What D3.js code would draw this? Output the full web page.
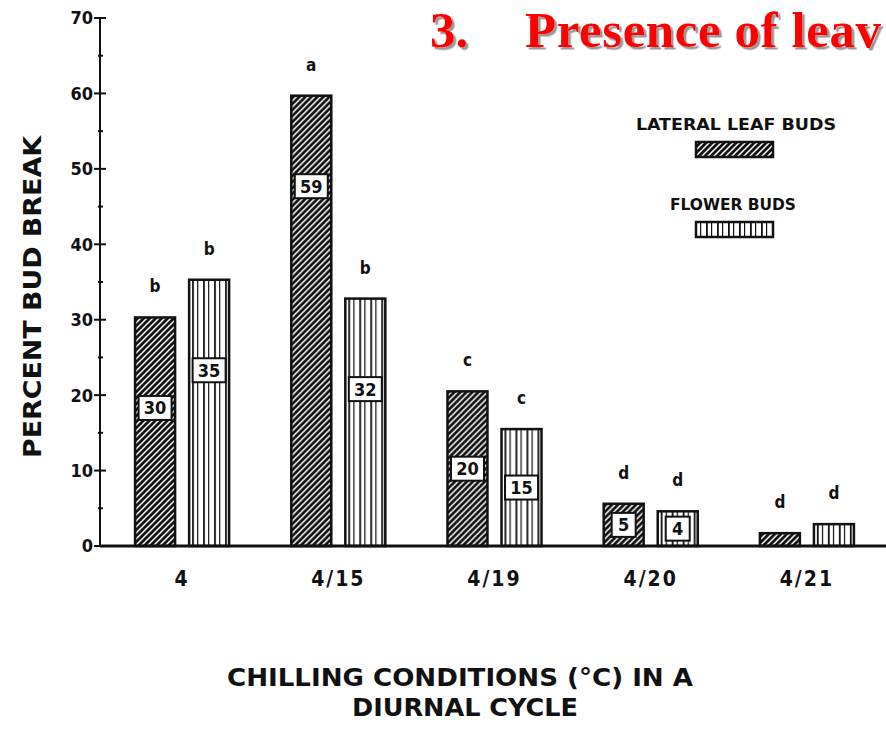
<!DOCTYPE html>
<html><head><meta charset="utf-8">
<script src="https://cdn.jsdelivr.net/npm/d3@7"></script>
<style>body{margin:0;background:#fff;} svg{display:block;}</style>
</head><body><svg id="c" width="886" height="731"></svg>
<script>
const categories = ["4", "4/15", "4/19", "4/20", "4/21"];
const seriesNames = ["LATERAL LEAF BUDS", "FLOWER BUDS"];
const leafValues = [30.3, 59.7, 20.5, 5.6, 1.7];
const flowerValues = [35.3, 32.8, 15.5, 4.6, 2.9];
const leafLabels = ["30", "59", "20", "5", null];
const flowerLabels = ["35", "32", "15", "4", null];
const leafLetters = ["b", "a", "c", "d", "d"];
const flowerLetters = ["b", "b", "c", "d", "d"];
const yTickValues = [0, 10, 20, 30, 40, 50, 60, 70];
const yTickLabels = ["0", "10", "20", "30", "40", "50", "60", "70"];
const yMinorTicks = [5, 15, 25, 35, 45, 55, 65];
const titleNumber = "3.";
const titleText = "Presence of leav";
const yTitle = "PERCENT BUD BREAK";
const xTitle1 = "CHILLING CONDITIONS (\u00B0C) IN A";
const xTitle2 = "DIURNAL CYCLE";

const svg = d3.select("#c");
const F = "'DejaVu Sans Condensed','DejaVu Sans',sans-serif";

const defs = svg.append("defs");
const hatch = defs.append("pattern").attr("id", "hatch").attr("patternUnits", "userSpaceOnUse")
  .attr("width", 6).attr("height", 6);
hatch.append("rect").attr("width", 6).attr("height", 6).attr("fill", "#111");
hatch.append("path").attr("d", "M-1,7 L7,-1 M-1,1 L1,-1 M5,7 L7,5")
  .attr("stroke", "#fff").attr("stroke-width", 1.5);
const stripes = defs.append("pattern").attr("id", "stripes").attr("patternUnits", "userSpaceOnUse")
  .attr("width", 11).attr("height", 10);
stripes.append("rect").attr("width", 11).attr("height", 10).attr("fill", "#fff");
stripes.append("rect").attr("x", 2).attr("width", 1.8).attr("height", 10).attr("fill", "#111");
stripes.append("rect").attr("x", 7).attr("width", 1.2).attr("height", 10).attr("fill", "#111");
const shadow = defs.append("filter").attr("id", "shadow").attr("x", "-10%").attr("y", "-30%")
  .attr("width", "130%").attr("height", "160%");
shadow.append("feDropShadow").attr("dx", 2.5).attr("dy", 2.5).attr("stdDeviation", 0.6)
  .attr("flood-color", "#999").attr("flood-opacity", 1);

const y = d3.scaleLinear().domain([0, 70]).range([546, 18]);
const x0 = d3.scaleBand().domain(categories).range([104, 885]).paddingInner(0.398).paddingOuter(0.199);
const x1 = d3.scaleBand().domain(seriesNames).range([0, x0.bandwidth()]).paddingInner(0.26);

// Title
const tg = svg.append("g").attr("font-family", "'Liberation Serif','Times New Roman',serif")
  .attr("font-weight", "bold").attr("font-size", 51).attr("fill", "#ff0000").attr("filter", "url(#shadow)");
tg.append("text").attr("x", 430).attr("y", 47).text(titleNumber);
tg.append("text").attr("x", 525).attr("y", 47).attr("textLength", 356).attr("lengthAdjust", "spacing").text(titleText);

// Y axis
const ax = svg.append("g");
ax.append("line").attr("x1", 100).attr("x2", 100).attr("y1", y(70)).attr("y2", y(0))
  .attr("stroke", "#111").attr("stroke-width", 2);
ax.selectAll(".maj").data(yTickValues).join("line")
  .attr("x1", 94).attr("x2", 106).attr("y1", d => y(d)).attr("y2", d => y(d))
  .attr("stroke", "#111").attr("stroke-width", 2);
ax.selectAll(".min").data(yMinorTicks).join("line")
  .attr("x1", 98).attr("x2", 103).attr("y1", d => y(d)).attr("y2", d => y(d))
  .attr("stroke", "#111").attr("stroke-width", 2);
ax.selectAll(".tl").data(yTickValues).join("text")
  .attr("x", 93).attr("y", d => y(d)).attr("dy", "0.36em").attr("text-anchor", "end")
  .attr("font-family", F).attr("font-weight", "bold").attr("font-size", 18).attr("fill", "#111")
  .text((d, i) => yTickLabels[i]);

// Bars
const rows = categories.map((c, i) => ({
  c,
  items: [
    { s: seriesNames[0], v: leafValues[i], lab: leafLabels[i], let: leafLetters[i], fill: "url(#hatch)" },
    { s: seriesNames[1], v: flowerValues[i], lab: flowerLabels[i], let: flowerLetters[i], fill: "url(#stripes)" }
  ]
}));
const g = svg.append("g");
const grp = g.selectAll("g").data(rows).join("g").attr("transform", d => `translate(${x0(d.c)},0)`);
const bar = grp.selectAll("g").data(d => d.items).join("g");
bar.append("rect")
  .attr("x", d => x1(d.s)).attr("width", x1.bandwidth())
  .attr("y", d => y(d.v)).attr("height", d => y(0) - y(d.v))
  .attr("fill", d => d.fill).attr("stroke", "#111").attr("stroke-width", 2.5);
const lb = bar.filter(d => d.lab);
lb.append("rect")
  .attr("x", d => x1(d.s) + x1.bandwidth() / 2 - (d.lab.length > 1 ? x1.bandwidth() - 7 : 24) / 2)
  .attr("width", d => d.lab.length > 1 ? x1.bandwidth() - 7 : 24)
  .attr("y", d => y(d.v > 25 ? d.v - 12 : d.v / 2) - 12).attr("height", 24)
  .attr("fill", "#fff").attr("stroke", "#111").attr("stroke-width", 2);
lb.append("text")
  .attr("x", d => x1(d.s) + x1.bandwidth() / 2)
  .attr("y", d => y(d.v > 25 ? d.v - 12 : d.v / 2)).attr("dy", "0.36em")
  .attr("text-anchor", "middle").attr("font-family", F).attr("font-weight", "bold")
  .attr("font-size", 18).attr("fill", "#111").text(d => d.lab);
bar.append("text")
  .attr("x", d => x1(d.s) + x1.bandwidth() / 2)
  .attr("y", d => y(d.v) - 25)
  .attr("text-anchor", "middle").attr("font-family", F).attr("font-weight", "bold")
  .attr("font-size", 17).attr("fill", "#111").text(d => d.let);

// Baseline
svg.append("line").attr("x1", 100).attr("x2", 886).attr("y1", y(0)).attr("y2", y(0))
  .attr("stroke", "#111").attr("stroke-width", 3);

// Category labels
svg.append("g").selectAll("text").data(categories).join("text")
  .attr("x", d => x0(d) + x0.bandwidth() / 2).attr("y", 586)
  .attr("text-anchor", "middle").attr("font-family", F).attr("font-weight", "bold")
  .attr("font-size", 21).attr("letter-spacing", 2).attr("fill", "#111").text(d => d);

// Legend
const lg = svg.append("g").attr("font-family", F).attr("font-weight", "bold").attr("fill", "#111");
lg.append("text").attr("x", 736).attr("y", 130).attr("text-anchor", "middle").attr("font-size", 15)
  .attr("textLength", 200).attr("lengthAdjust", "spacingAndGlyphs").text(seriesNames[0]);
lg.append("rect").attr("x", 696).attr("y", 142).attr("width", 77).attr("height", 15)
  .attr("fill", "url(#hatch)").attr("stroke", "#111").attr("stroke-width", 2.5);
lg.append("text").attr("x", 733).attr("y", 210).attr("text-anchor", "middle").attr("font-size", 15)
  .attr("textLength", 126).attr("lengthAdjust", "spacingAndGlyphs").text(seriesNames[1]);
lg.append("rect").attr("x", 696).attr("y", 222).attr("width", 77).attr("height", 15)
  .attr("fill", "url(#stripes)").attr("stroke", "#111").attr("stroke-width", 2.5);

// Axis titles
svg.append("text").attr("transform", "translate(41,297) rotate(-90)")
  .attr("text-anchor", "middle").attr("font-family", F).attr("font-weight", "bold")
  .attr("font-size", 25).attr("fill", "#111")
  .attr("textLength", 322).attr("lengthAdjust", "spacingAndGlyphs").text(yTitle);
svg.append("text").attr("x", 460).attr("y", 686).attr("text-anchor", "middle")
  .attr("font-family", F).attr("font-weight", "bold").attr("font-size", 24).attr("fill", "#111")
  .attr("textLength", 466).attr("lengthAdjust", "spacingAndGlyphs").text(xTitle1);
svg.append("text").attr("x", 465).attr("y", 716).attr("text-anchor", "middle")
  .attr("font-family", F).attr("font-weight", "bold").attr("font-size", 24).attr("fill", "#111")
  .attr("textLength", 226).attr("lengthAdjust", "spacingAndGlyphs").text(xTitle2);
</script></body></html>
